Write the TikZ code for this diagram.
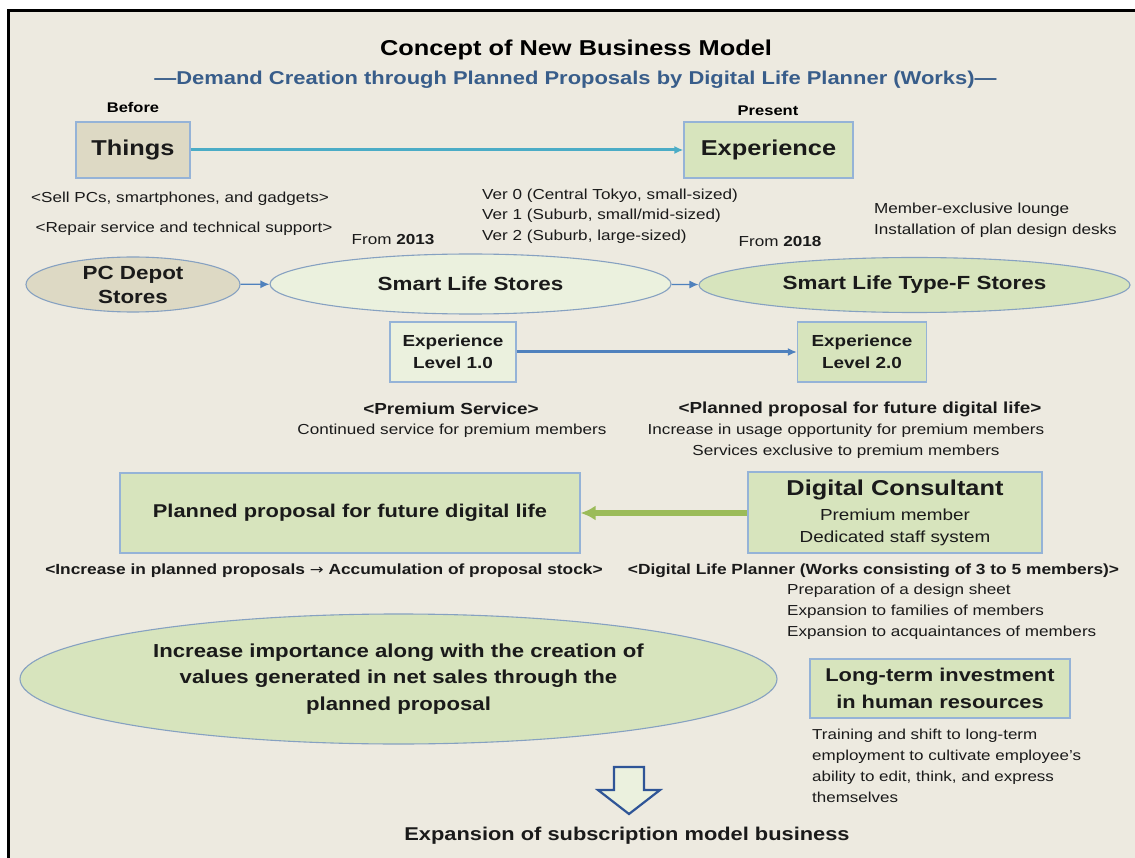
\documentclass[tikz,border=0pt]{standalone}
\usepackage{fontspec}
\setmainfont[FakeStretch=1.18]{Liberation Sans}
\newfontfamily\symfont[FakeStretch=1.18]{DejaVu Sans}
\usetikzlibrary{arrows.meta,shapes.geometric}
\definecolor{bgc}{HTML}{EDEAE0}
\definecolor{tanc}{HTML}{DDD9C4}
\definecolor{greenc}{HTML}{D7E4BD}
\definecolor{lightg}{HTML}{EBF1DE}
\definecolor{edgec}{HTML}{95B3D7}
\definecolor{subc}{HTML}{385D8A}
\definecolor{cyanc}{HTML}{4BACC6}
\definecolor{bluec}{HTML}{4F81BD}
\definecolor{olivec}{HTML}{9BBB59}
\definecolor{darkb}{HTML}{2F5597}
\definecolor{txt}{HTML}{1A1A1A}
\newcommand{\fsz}[1]{\fontsize{#1}{#1}\selectfont}
\tikzset{
  box/.style={draw=edgec, line width=1.2pt, inner sep=0pt, align=center, text=txt},
  oval/.style={ellipse, draw=edgec!90!black, line width=1.1pt, inner sep=0pt, align=center, text=txt},
  plain/.style={inner sep=0pt, text=txt, font=\fsz{14.5}},
  bsmall/.style={inner sep=0pt, text=txt, font=\bfseries\fsz{16}},
  btiny/.style={inner sep=0pt, text=txt, font=\bfseries\fsz{14.7}},
  flow/.style={-{Latex[length=9pt,width=8pt]}},
}
\begin{document}
\begin{tikzpicture}[x=1pt,y=-1pt]
\useasboundingbox (0,0) rectangle (1135,858);
\fill[white] (0,0) rectangle (1135,858);
\fill[bgc] (8.5,10.5) rectangle (1135,858);
\draw[line width=2.5pt, black] (8.5,858) -- (8.5,10.5) -- (1135,10.5);

% titles
\node[inner sep=0pt, font=\bfseries\fsz{21.5}] (title) at (576,50) {Concept of New Business Model};
\node[inner sep=0pt, text=subc, font=\bfseries\fsz{18.6}] (sub) at (575.5,80) {---Demand Creation through Planned Proposals by Digital Life Planner (Works)---};

% before / present
\node[inner sep=0pt, font=\bfseries\fsz{14}] (before) at (133,107) {Before};
\node[inner sep=0pt, font=\bfseries\fsz{14}] (present) at (768,111) {Present};
\node[box, fill=tanc, minimum width=114pt, minimum height=56pt, font=\bfseries\fsz{21.5}] (things) at (133,150) {Things};
\node[box, fill=greenc, minimum width=169pt, minimum height=56pt, font=\bfseries\fsz{21.5}] (exp) at (768.5,150) {Experience};
\draw[flow, cyanc, line width=3pt] (things) -- (exp);

\node[plain] (sell) at (180,199) {<Sell PCs, smartphones, and gadgets>};
\node[plain] (repair) at (184,229) {<Repair service and technical support>};
\node[plain, anchor=west] (v0) at (482,196) {Ver 0 (Central Tokyo, small-sized)};
\node[plain, anchor=west] (v1) at (482,216) {Ver 1 (Suburb, small/mid-sized)};
\node[plain, anchor=west] (v2) at (482,237) {Ver 2 (Suburb, large-sized)};
\node[plain] (f2013) at (393,240) {From \textbf{2013}};
\node[plain] (f2018) at (780,242) {From \textbf{2018}};
\node[plain, anchor=west] (lounge) at (874,210) {Member-exclusive lounge};
\node[plain, anchor=west] (desks) at (874,231) {Installation of plan design desks};

% stores
\node[oval, fill=tanc, minimum width=214pt, minimum height=55pt, font=\bfseries\fsz{19}] (pcd) at (133,284.5) {PC Depot\\[5pt]Stores};
\node[oval, fill=lightg, minimum width=401pt, minimum height=60pt, font=\bfseries\fsz{19}] (sls) at (470.5,284) {Smart Life Stores};
\node[oval, fill=greenc, minimum width=431pt, minimum height=55pt, font=\bfseries\fsz{19}] (tf) at (914.5,285) {Smart Life Type-F Stores};
\draw[flow, bluec, line width=1.2pt] (pcd) -- (sls);
\draw[flow, bluec, line width=1.2pt] (sls) -- (tf);

% experience levels
\node[box, fill=lightg, minimum width=126pt, minimum height=60pt, font=\bfseries\fsz{16}] (l1) at (453,352) {Experience\\[6pt]Level 1.0};
\node[box, fill=greenc, minimum width=129pt, minimum height=60pt, font=\bfseries\fsz{16}] (l2) at (862,352) {Experience\\[6pt]Level 2.0};
\draw[flow, bluec, line width=3pt] (l1) -- (l2);

\node[bsmall] (prem) at (451,409) {<Premium Service>};
\node[plain] (cont) at (452,431) {Continued service for premium members};
\node[bsmall] (ppfl) at (860,409) {<Planned proposal for future digital life>};
\node[plain] (incr) at (846,431) {Increase in usage opportunity for premium members};
\node[plain] (serv) at (846,452) {Services exclusive to premium members};

% planned proposal and digital consultant
\node[box, fill=greenc, minimum width=460pt, minimum height=80pt, font=\bfseries\fsz{18.5}] (pp) at (350,513) {Planned proposal for future digital life};
\node[box, fill=greenc, minimum width=294pt, minimum height=81pt] (dc) at (895,512.5) {};
\node[inner sep=0pt, text=txt, font=\bfseries\fsz{21.5}] (dct) at (895,490) {Digital Consultant};
\node[inner sep=0pt, text=txt, font=\fsz{16}] (dc1) at (895,515) {Premium member};
\node[inner sep=0pt, text=txt, font=\fsz{16}] (dc2) at (895,538) {Dedicated staff system};
\draw[-{Latex[length=15pt,width=15pt]}, olivec, line width=6pt] (dc.west |- pp.east) -- (pp.east);

\node[btiny] (acc) at (324,571) {<Increase in planned proposals {\symfont\fsz{14}\mdseries →} Accumulation of proposal stock>};
\node[btiny] (dlp) at (873.5,571) {<Digital Life Planner (Works consisting of 3 to 5 members)>};
\node[plain, anchor=west] (prep) at (787,591) {Preparation of a design sheet};
\node[plain, anchor=west] (fam) at (787,612) {Expansion to families of members};
\node[plain, anchor=west] (acq) at (787,633) {Expansion to acquaintances of members};

% big ellipse
\node[oval, fill=greenc, minimum width=757pt, minimum height=130pt] (big) at (398.5,679) {};
\node[inner sep=0pt, text=txt, font=\bfseries\fsz{18.8}, align=center] (bigt) at (398.5,679) {Increase importance along with the creation of\\[7.5pt]values generated in net sales through the\\[7.5pt]planned proposal};

% long-term
\node[box, fill=greenc, minimum width=260pt, minimum height=59pt, font=\bfseries\fsz{18.5}] (lt) at (940,688.5) {Long-term investment\\[8pt]in human resources};
\node[plain, anchor=north west, align=left, font=\fsz{14.4}] (train) at (812,729) {Training and shift to long-term\\[6.5pt]employment to cultivate employee's\\[6.5pt]ability to edit, think, and express\\[6.5pt]themselves};

% hollow down arrow
\draw[darkb, fill=lightg, line width=2.2pt, line join=miter]
  (614,767) -- (644,767) -- (644,790) -- (660,790) -- (629,814) -- (598,790) -- (614,790) -- cycle;
\node[inner sep=0pt, text=txt, font=\bfseries\fsz{18.5}] (expsub) at (627,836) {Expansion of subscription model business};
\end{tikzpicture}
\end{document}
